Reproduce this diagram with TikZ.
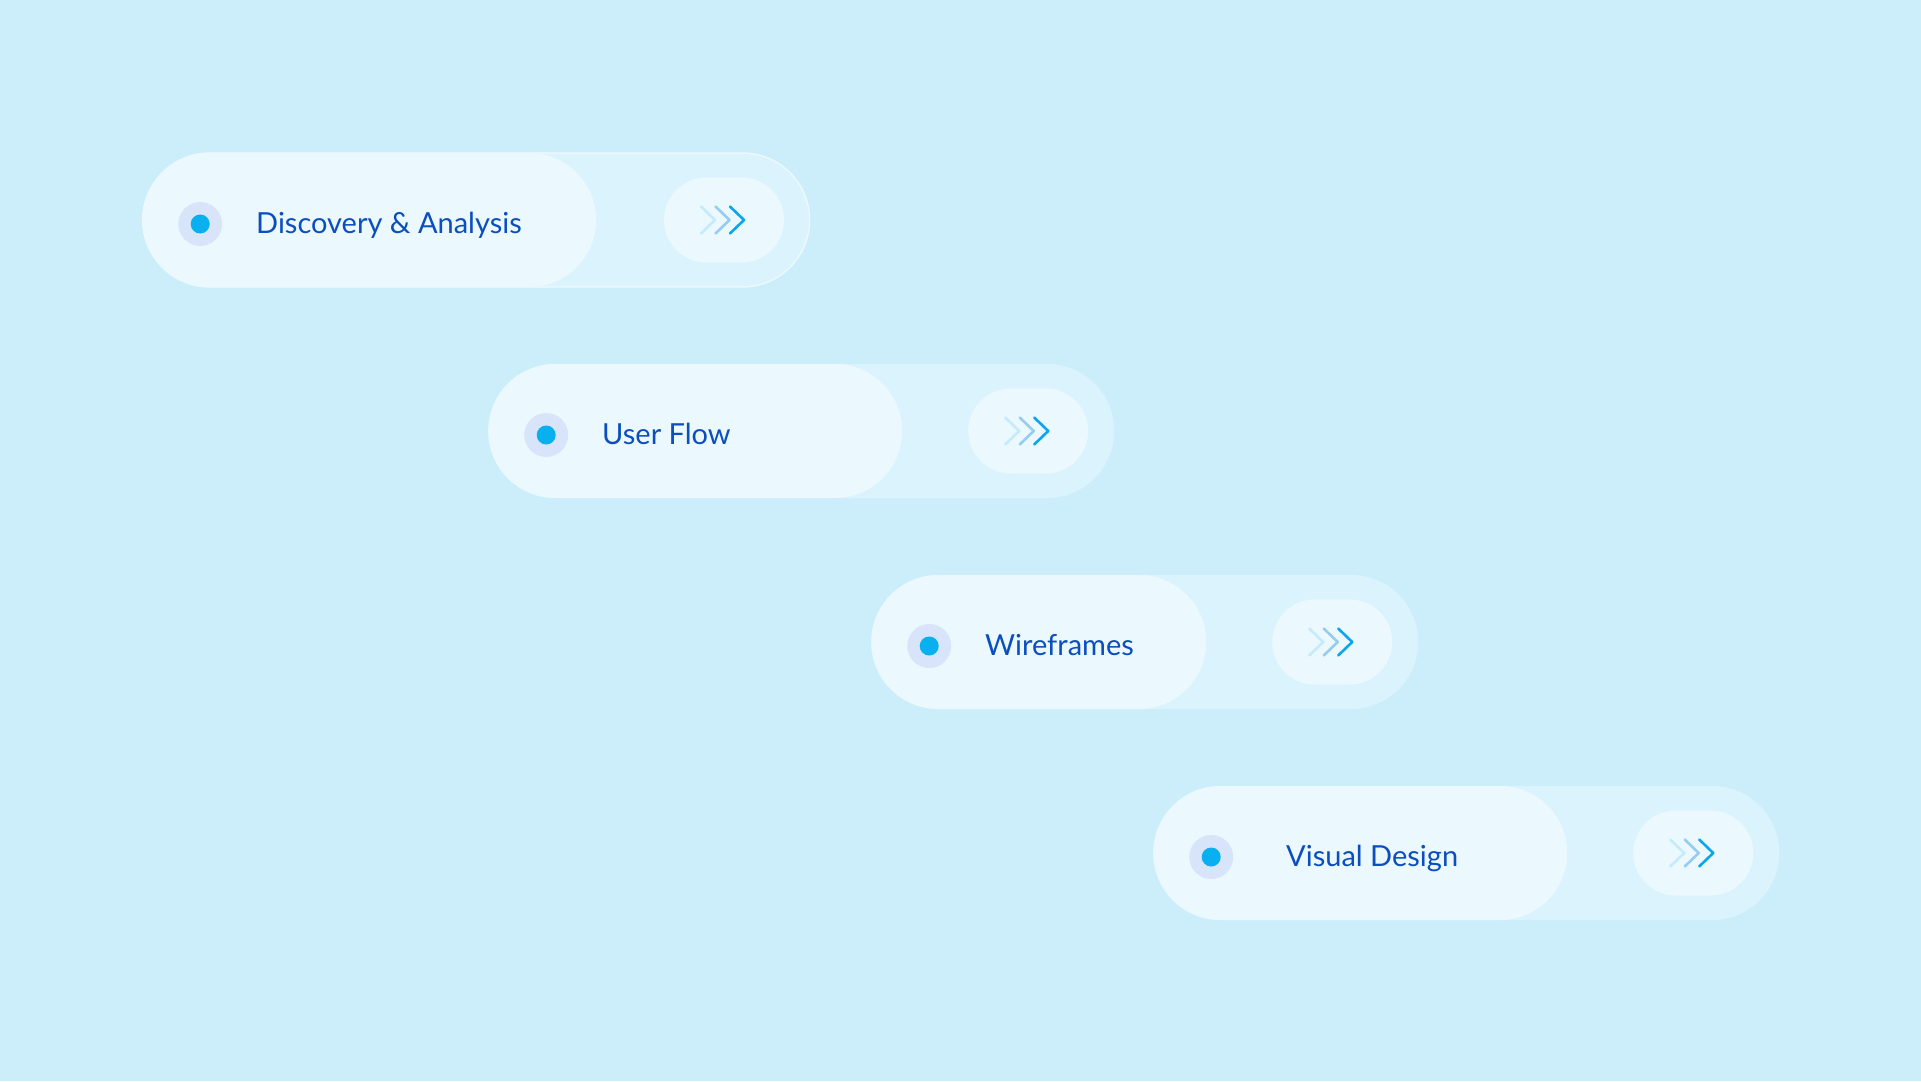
\documentclass[tikz,border=0pt]{standalone}
\usepackage{fontspec}
\setmainfont{Lato}
\usetikzlibrary{positioning, calc}
\definecolor{canvas}{HTML}{CCEEFA}
\definecolor{trackfill}{HTML}{DAF3FD}
\definecolor{pillfill}{HTML}{EBF9FF}
\definecolor{halofill}{HTML}{D8E4FA}
\definecolor{dotblue}{HTML}{08B0F0}
\definecolor{textblue}{HTML}{0B4EBE}
\definecolor{chevlight}{HTML}{C4EAFB}
\definecolor{chevmid}{HTML}{96CDEF}
\definecolor{chevdark}{HTML}{0BA5EC}

\begin{document}
\begin{tikzpicture}[
            x=1pt, y=-1pt,
            track/.style={fill=trackfill, rounded corners=67pt, minimum height=134pt, inner sep=0pt, anchor=west},
            pill/.style={fill=pillfill, rounded corners=67pt, minimum height=134pt, inner sep=0pt, anchor=west},
            gobutton/.style={fill=pillfill, rounded corners=42.5pt, minimum width=120pt, minimum height=85pt, inner sep=0pt, anchor=east, xshift=-26pt},
            halo/.style={circle, fill=halofill, minimum size=44pt, inner sep=0pt},
            dotmark/.style={circle, fill=dotblue, minimum size=19pt, inner sep=0pt},
            stepname/.style={text=textblue, inner sep=0pt, anchor=base west, font=\fontsize{29}{35}\selectfont},
            chev/.style={line width=2.6pt, line cap=round, line join=round}
        ]
            \fill[canvas] (0,0) rectangle (1921,1081);
            \useasboundingbox (0,0) rectangle (1921,1081);

            % step 1
            \node[track, minimum width=667pt, draw=white!60!trackfill, line width=1.2pt] (track1) at (142,220) {};
            \node[pill, minimum width=454pt] (pill1) at (track1.west) {};
            \node[gobutton] (go1) at (track1.east) {};
            \node[halo, right=36pt of track1.west, yshift=-4pt] (halo1) {};
            \node[dotmark] (dot1) at (halo1) {};
            \node[stepname] (name1) at ($(track1.west)+(114,13)$) {Discovery \& Analysis};
            \draw[chev, chevlight] ($(go1)+(-23,-13.5)$) -- ++(14,13.5) -- ++(-14,13.5);
            \draw[chev, chevmid] ($(go1)+(-8.5,-13.5)$) -- ++(14,13.5) -- ++(-14,13.5);
            \draw[chev, chevdark] ($(go1)+(6,-13.5)$) -- ++(14,13.5) -- ++(-14,13.5);

            % step 2
            \node[track, minimum width=626pt] (track2) at (488,431) {};
            \node[pill, minimum width=414pt] (pill2) at (track2.west) {};
            \node[gobutton] (go2) at (track2.east) {};
            \node[halo, right=36pt of track2.west, yshift=-4pt] (halo2) {};
            \node[dotmark] (dot2) at (halo2) {};
            \node[stepname] (name2) at ($(track2.west)+(114,13)$) {User Flow};
            \draw[chev, chevlight] ($(go2)+(-23,-13.5)$) -- ++(14,13.5) -- ++(-14,13.5);
            \draw[chev, chevmid] ($(go2)+(-8.5,-13.5)$) -- ++(14,13.5) -- ++(-14,13.5);
            \draw[chev, chevdark] ($(go2)+(6,-13.5)$) -- ++(14,13.5) -- ++(-14,13.5);

            % step 3
            \node[track, minimum width=547pt] (track3) at (871,642) {};
            \node[pill, minimum width=335pt] (pill3) at (track3.west) {};
            \node[gobutton] (go3) at (track3.east) {};
            \node[halo, right=36pt of track3.west, yshift=-4pt] (halo3) {};
            \node[dotmark] (dot3) at (halo3) {};
            \node[stepname] (name3) at ($(track3.west)+(114,13)$) {Wireframes};
            \draw[chev, chevlight] ($(go3)+(-23,-13.5)$) -- ++(14,13.5) -- ++(-14,13.5);
            \draw[chev, chevmid] ($(go3)+(-8.5,-13.5)$) -- ++(14,13.5) -- ++(-14,13.5);
            \draw[chev, chevdark] ($(go3)+(6,-13.5)$) -- ++(14,13.5) -- ++(-14,13.5);

            % step 4
            \node[track, minimum width=626pt] (track4) at (1153,853) {};
            \node[pill, minimum width=414pt] (pill4) at (track4.west) {};
            \node[gobutton] (go4) at (track4.east) {};
            \node[halo, right=36pt of track4.west, yshift=-4pt] (halo4) {};
            \node[dotmark] (dot4) at (halo4) {};
            \node[stepname] (name4) at ($(track4.west)+(133,13)$) {Visual Design};
            \draw[chev, chevlight] ($(go4)+(-23,-13.5)$) -- ++(14,13.5) -- ++(-14,13.5);
            \draw[chev, chevmid] ($(go4)+(-8.5,-13.5)$) -- ++(14,13.5) -- ++(-14,13.5);
            \draw[chev, chevdark] ($(go4)+(6,-13.5)$) -- ++(14,13.5) -- ++(-14,13.5);
        \end{tikzpicture}
\end{document}
